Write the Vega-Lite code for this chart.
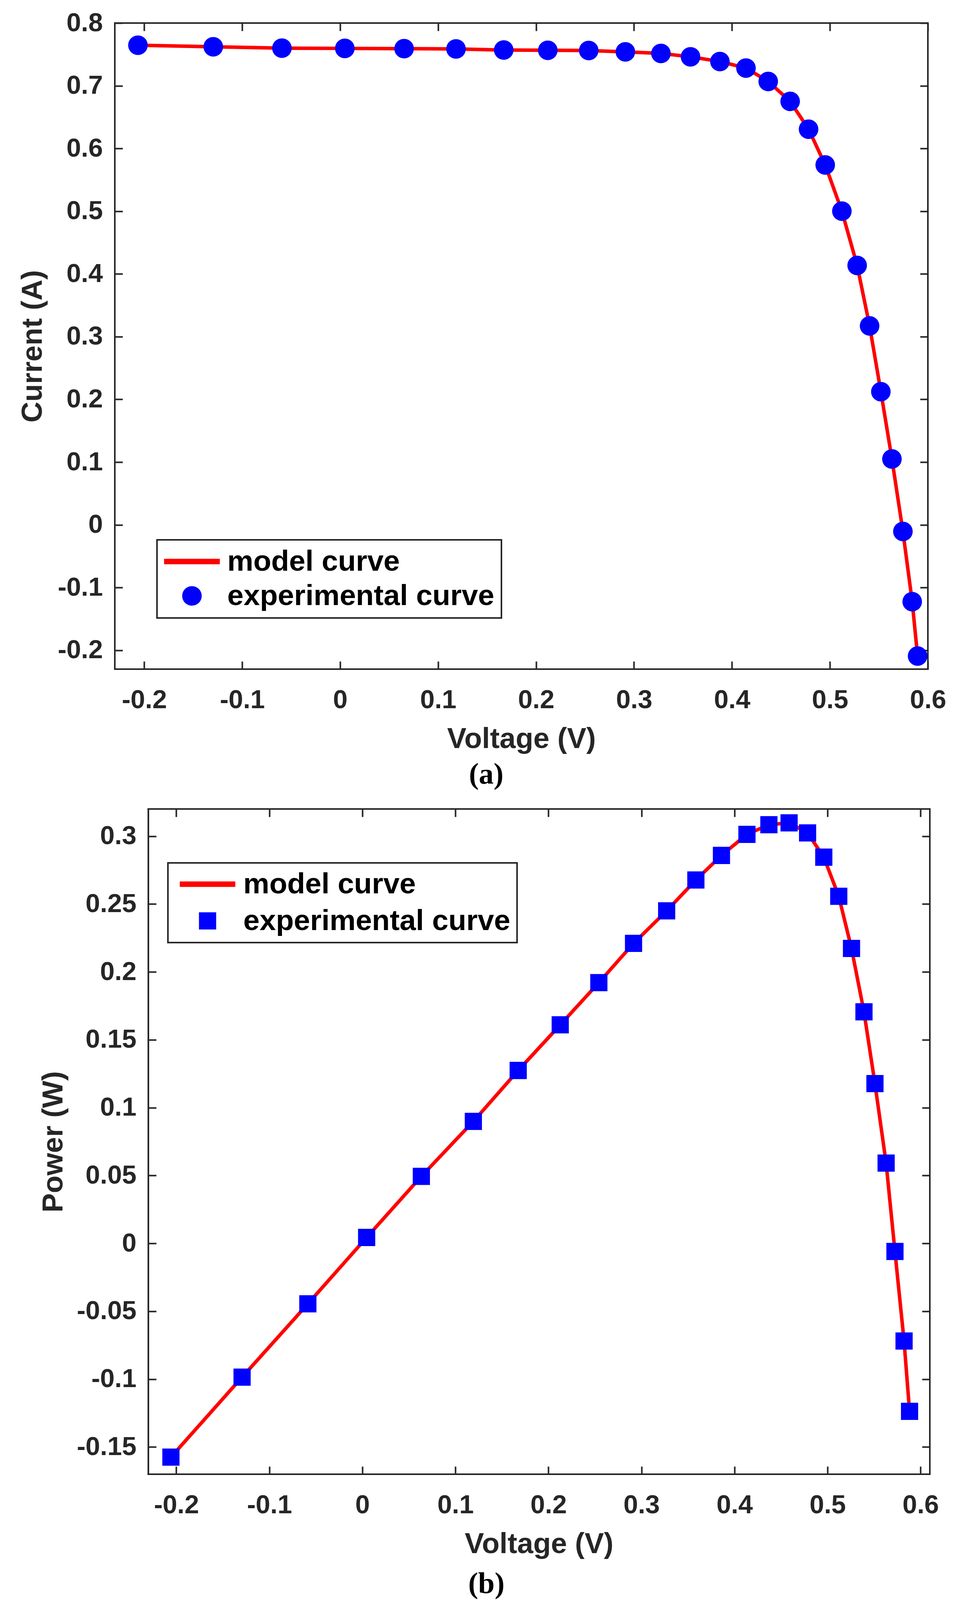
{
  "$schema": "https://vega.github.io/schema/vega-lite/v6.json",
  "background": "white",
  "padding": {"left": 45, "top": 23, "right": 10, "bottom": 5},
  "spacing": 45,
  "datasets": {
    "iv": [
      {"V": -0.2064, "I": 0.7646},
      {"V": -0.1295, "I": 0.7622},
      {"V": -0.0594, "I": 0.7600},
      {"V": 0.0048, "I": 0.7596},
      {"V": 0.0653, "I": 0.7592},
      {"V": 0.1183, "I": 0.7588},
      {"V": 0.1670, "I": 0.7570},
      {"V": 0.2120, "I": 0.7566},
      {"V": 0.2538, "I": 0.7562},
      {"V": 0.2912, "I": 0.7541},
      {"V": 0.3275, "I": 0.7516},
      {"V": 0.3577, "I": 0.7462},
      {"V": 0.3877, "I": 0.7387},
      {"V": 0.4143, "I": 0.7282},
      {"V": 0.4370, "I": 0.7069},
      {"V": 0.4594, "I": 0.6752},
      {"V": 0.4782, "I": 0.6308},
      {"V": 0.4952, "I": 0.5738},
      {"V": 0.5122, "I": 0.5002},
      {"V": 0.5278, "I": 0.4136},
      {"V": 0.5405, "I": 0.3172},
      {"V": 0.5520, "I": 0.2123},
      {"V": 0.5633, "I": 0.1050},
      {"V": 0.5745, "I": -0.0105},
      {"V": 0.5840, "I": -0.1224},
      {"V": 0.5895, "I": -0.2092}
    ],
    "pv": [
      {"V": -0.2058, "P": -0.1574},
      {"V": -0.1293, "P": -0.0985},
      {"V": -0.0586, "P": -0.0445},
      {"V": 0.0046, "P": 0.0044},
      {"V": 0.0634, "P": 0.0494},
      {"V": 0.1193, "P": 0.0899},
      {"V": 0.1675, "P": 0.1274},
      {"V": 0.2127, "P": 0.1610},
      {"V": 0.2542, "P": 0.1921},
      {"V": 0.2915, "P": 0.2210},
      {"V": 0.3271, "P": 0.2450},
      {"V": 0.3585, "P": 0.2677},
      {"V": 0.3860, "P": 0.2858},
      {"V": 0.4134, "P": 0.3013},
      {"V": 0.4370, "P": 0.3084},
      {"V": 0.4587, "P": 0.3098},
      {"V": 0.4786, "P": 0.3024},
      {"V": 0.4960, "P": 0.2845},
      {"V": 0.5121, "P": 0.2557},
      {"V": 0.5258, "P": 0.2173},
      {"V": 0.5392, "P": 0.1706},
      {"V": 0.5510, "P": 0.1177},
      {"V": 0.5630, "P": 0.0592},
      {"V": 0.5725, "P": -0.0059},
      {"V": 0.5823, "P": -0.0719},
      {"V": 0.5882, "P": -0.1237}
    ]
  },
  "vconcat": [
    {
      "width": 2082,
      "height": 1654,
      "data": {"name": "iv"},
      "title": {"text": "(a)", "dx": -90, "offset": 17},
      "layer": [
        {
          "mark": {"type": "line", "color": "#ff0000", "strokeWidth": 9},
          "encoding": {
            "x": {
              "field": "V", "type": "quantitative",
              "scale": {"domain": [-0.23, 0.6], "nice": false, "zero": false},
              "axis": {"orient": "bottom", "title": "Voltage (V)", "values": [-0.2, -0.1, 0, 0.1, 0.2, 0.3, 0.4, 0.5, 0.6]}
            },
            "y": {
              "field": "I", "type": "quantitative",
              "scale": {"domain": [-0.23, 0.8], "nice": false, "zero": false},
              "axis": {"orient": "left", "title": "Current (A)", "values": [-0.2, -0.1, 0, 0.1, 0.2, 0.3, 0.4, 0.5, 0.6, 0.7, 0.8]}
            }
          }
        },
        {
          "mark": {"type": "point", "filled": true, "size": 5476, "opacity": 1},
          "encoding": {
            "x": {
              "field": "V", "type": "quantitative",
              "axis": {"orient": "top", "labels": false, "title": null, "values": [-0.2, -0.1, 0, 0.1, 0.2, 0.3, 0.4, 0.5, 0.6]}
            },
            "y": {
              "field": "I", "type": "quantitative",
              "axis": {"orient": "right", "labels": false, "title": null, "values": [-0.2, -0.1, 0, 0.1, 0.2, 0.3, 0.4, 0.5, 0.6, 0.7, 0.8]}
            },
            "color": {
              "datum": "experimental curve", "type": "nominal",
              "scale": {"domain": ["model curve", "experimental curve"], "range": ["#ff0000", "#0000ff"]},
              "legend": {
                "orient": "none", "legendX": 108, "legendY": 1323,
                "symbolSize": 5476, "symbolOffset": 34,
                "labelOffset": 53, "rowPadding": 12, "padding": 18
              }
            },
            "shape": {
              "datum": "experimental curve", "type": "nominal",
              "scale": {
                "domain": ["model curve", "experimental curve"],
                "range": ["M-1.93,-0.19H1.93V0.19H-1.93Z", "M0.676,0A0.676,0.676 0 1,1 -0.676,0A0.676,0.676 0 1,1 0.676,0Z"]
              }
            }
          }
        }
      ],
      "resolve": {"axis": {"x": "independent", "y": "independent"}}
    },
    {
      "width": 2087,
      "height": 1703,
      "data": {"name": "pv"},
      "view": {"stroke": null},
      "title": {"text": "(b)", "dx": -92, "offset": 28},
      "layer": [
        {
          "mark": {"type": "line", "color": "#ff0000", "strokeWidth": 9},
          "encoding": {
            "x": {
              "field": "V", "type": "quantitative",
              "scale": {"domain": [-0.2661, 0.61], "nice": false, "zero": false},
              "axis": {"orient": "bottom", "title": "Voltage (V)", "titleX": 1086, "values": [-0.2, -0.1, 0, 0.1, 0.2, 0.3, 0.4, 0.5, 0.6]}
            },
            "y": {
              "field": "P", "type": "quantitative",
              "scale": {"domain": [-0.17, 0.32], "nice": false, "zero": false},
              "axis": {"orient": "left", "title": "Power (W)", "offset": -106, "values": [-0.15, -0.1, -0.05, 0, 0.05, 0.1, 0.15, 0.2, 0.25, 0.3]}
            }
          }
        },
        {
          "mark": {"type": "point", "filled": true, "size": 5476, "opacity": 1},
          "encoding": {
            "x": {
              "field": "V", "type": "quantitative",
              "axis": {"orient": "top", "labels": false, "title": null, "values": [-0.2, -0.1, 0, 0.1, 0.2, 0.3, 0.4, 0.5, 0.6]}
            },
            "y": {
              "field": "P", "type": "quantitative",
              "axis": {"orient": "right", "labels": false, "title": null, "values": [-0.15, -0.1, -0.05, 0, 0.05, 0.1, 0.15, 0.2, 0.25, 0.3]}
            },
            "color": {
              "datum": "experimental curve", "type": "nominal",
              "scale": {"domain": ["model curve", "experimental curve"], "range": ["#ff0000", "#0000ff"]},
              "legend": {
                "orient": "none", "legendX": 136, "legendY": 138,
                "symbolSize": 5476, "symbolOffset": 47,
                "labelOffset": 54, "rowPadding": 18, "padding": 17
              }
            },
            "shape": {
              "datum": "experimental curve", "type": "nominal",
              "scale": {
                "domain": ["model curve", "experimental curve"],
                "range": ["M-1.92,-0.19H1.92V0.19H-1.92Z", "M-0.595,-0.595H0.595V0.595H-0.595Z"]
              }
            }
          }
        },
        {
          "mark": {"type": "rule", "color": "#262626", "strokeWidth": 4, "strokeCap": "square"},
          "encoding": {
            "x": {"datum": -0.23, "type": "quantitative", "axis": null},
            "y": {"datum": -0.17, "type": "quantitative", "axis": null},
            "y2": {"datum": 0.32}
          }
        },
        {
          "mark": {"type": "rule", "color": "#262626", "strokeWidth": 4, "strokeCap": "square"},
          "encoding": {
            "x": {"datum": 0.61, "type": "quantitative", "axis": null},
            "y": {"datum": -0.17, "type": "quantitative", "axis": null},
            "y2": {"datum": 0.32}
          }
        },
        {
          "mark": {"type": "rule", "color": "#262626", "strokeWidth": 4, "strokeCap": "square"},
          "encoding": {
            "x": {"datum": -0.23, "type": "quantitative", "axis": null},
            "x2": {"datum": 0.61},
            "y": {"datum": 0.32, "type": "quantitative", "axis": null}
          }
        },
        {
          "mark": {"type": "rule", "color": "#262626", "strokeWidth": 4, "strokeCap": "square"},
          "encoding": {
            "x": {"datum": -0.23, "type": "quantitative", "axis": null},
            "x2": {"datum": 0.61},
            "y": {"datum": -0.17, "type": "quantitative", "axis": null}
          }
        }
      ],
      "resolve": {"axis": {"x": "independent", "y": "independent"}}
    }
  ],
  "resolve": {
    "scale": {"color": "independent", "shape": "independent"},
    "legend": {"color": "independent", "shape": "independent"}
  },
  "config": {
    "view": {"stroke": "#262626", "strokeWidth": 4},
    "axis": {
      "domain": false,
      "grid": false,
      "offset": -20,
      "tickSize": 20,
      "tickWidth": 4,
      "tickColor": "#262626",
      "labelFont": "Liberation Sans",
      "labelFontSize": 67,
      "labelFontWeight": "bold",
      "labelColor": "#262626",
      "labelFlush": false,
      "labelOverlap": false,
      "labelExpr": "'' + round(datum.value * 100) / 100",
      "titleFont": "Liberation Sans",
      "titleFontSize": 74,
      "titleFontWeight": "bold",
      "titleColor": "#262626"
    },
    "axisX": {"labelPadding": 46, "titlePadding": 31},
    "axisY": {"labelPadding": 31, "titlePadding": 25},
    "legend": {
      "title": null,
      "direction": "vertical",
      "labelFont": "Liberation Sans",
      "labelFontSize": 75,
      "labelFontWeight": "bold",
      "labelColor": "#000000",
      "labelLimit": 2000,
      "strokeColor": "#262626",
      "strokeWidth": 4,
      "fillColor": "#ffffff",
      "symbolStrokeWidth": 0
    },
    "title": {
      "orient": "bottom",
      "anchor": "middle",
      "font": "Liberation Serif",
      "fontSize": 76,
      "fontWeight": "bold",
      "color": "#000000"
    }
  }
}
